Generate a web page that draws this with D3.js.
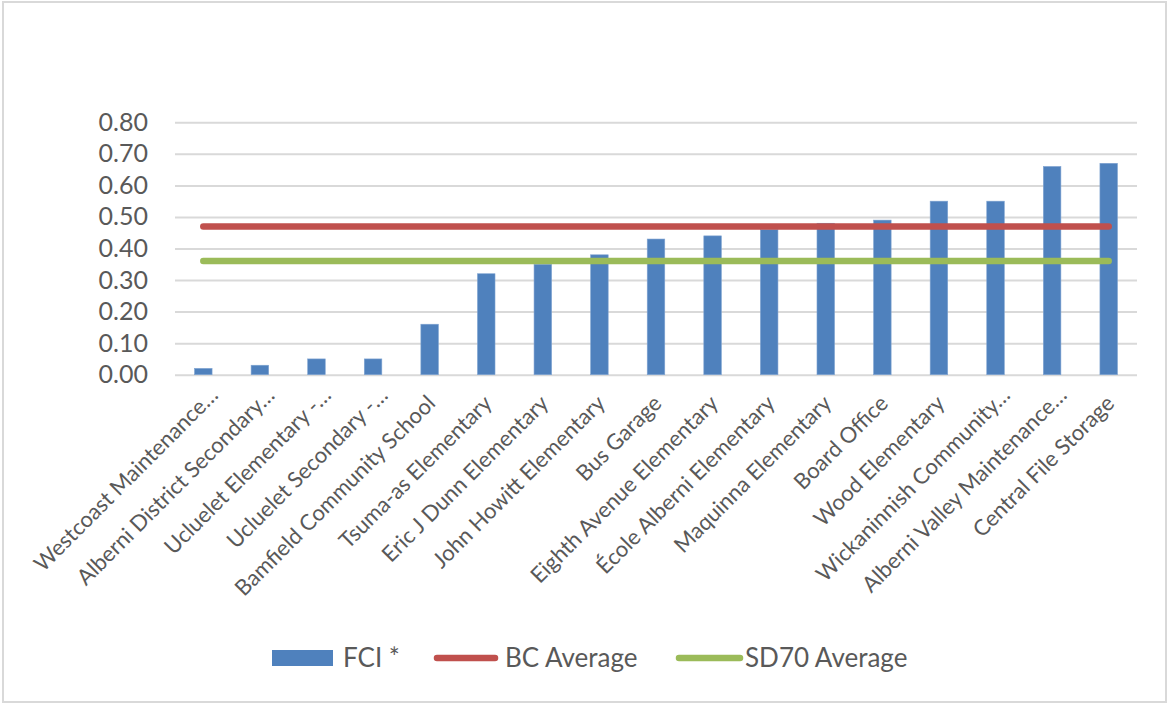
<!DOCTYPE html>
<html>
<head>
<meta charset="utf-8">
<script src="https://cdn.jsdelivr.net/npm/d3@7"></script>
<style>
  html, body { margin: 0; padding: 0; background: #fff; }
  svg { display: block; font-family: Lato, "Open Sans", sans-serif; }
</style>
</head>
<body>
<svg id="chart" width="1169" height="704"></svg>
<script>
// Facility Condition Index by site, with BC and district averages
const sites = [
  "Westcoast Maintenance…",
  "Alberni District Secondary…",
  "Ucluelet Elementary -…",
  "Ucluelet Secondary -…",
  "Bamfield Community School",
  "Tsuma-as Elementary",
  "Eric J Dunn Elementary",
  "John Howitt Elementary",
  "Bus Garage",
  "Eighth Avenue Elementary",
  "École Alberni Elementary",
  "Maquinna Elementary",
  "Board Office",
  "Wood Elementary",
  "Wickaninnish Community…",
  "Alberni Valley Maintenance…",
  "Central File Storage"
];
const fci = [0.02, 0.03, 0.05, 0.05, 0.16, 0.32, 0.35, 0.38, 0.43, 0.44, 0.46, 0.48, 0.49, 0.55, 0.55, 0.66, 0.67];
const bcAverage = 0.47;
const sd70Average = 0.36;
const yTicks = [0, 0.1, 0.2, 0.3, 0.4, 0.5, 0.6, 0.7, 0.8];
const legendItems = ["FCI *", "BC Average", "SD70 Average"];

const colors = { bar: "#4f81bd", bc: "#c0504d", sd70: "#9bbb59", grid: "#d9d9d9", text: "#595959" };

const svg = d3.select("#chart");

// outer chart frame
svg.append("rect")
  .attr("x", 3).attr("y", 2).attr("width", 1163).attr("height", 700)
  .attr("fill", "#fff").attr("stroke", colors.grid).attr("stroke-width", 2);

const plot = { left: 175, right: 1137, top: 122.3, bottom: 374.7 };

const x = d3.scaleBand()
  .domain(sites)
  .range([plot.left, plot.right])
  .paddingInner(0.69)
  .paddingOuter(0.345);

const y = d3.scaleLinear()
  .domain([0, 0.8])
  .range([plot.bottom, plot.top]);

// horizontal gridlines and value labels
const yAxis = d3.axisLeft(y)
  .tickValues(yTicks)
  .tickFormat(d3.format(".2f"))
  .tickSize(-(plot.right - plot.left))
  .tickPadding(27);

const gy = svg.append("g")
  .attr("transform", `translate(${plot.left},0)`)
  .call(yAxis);
gy.select(".domain").remove();
gy.selectAll(".tick line").attr("stroke", colors.grid).attr("stroke-width", 2);
gy.selectAll(".tick text")
  .attr("fill", colors.text)
  .attr("font-size", 25)
  .attr("font-family", "Lato, sans-serif");

// bars
svg.append("g").selectAll("rect")
  .data(fci)
  .join("rect")
  .attr("x", (d, i) => x(sites[i]))
  .attr("y", d => y(d))
  .attr("width", x.bandwidth())
  .attr("height", d => y(0) - y(d))
  .attr("fill", colors.bar)
  .attr("stroke", "#7fa3d1")
  .attr("stroke-width", 0.6);

// category axis labels, rotated
const xAxis = d3.axisBottom(x).tickSize(0).tickPadding(0);
const gx = svg.append("g")
  .attr("transform", `translate(0,${plot.bottom})`)
  .call(xAxis);
gx.select(".domain").remove();
gx.selectAll(".tick text")
  .attr("fill", colors.text)
  .attr("font-size", 22)
  .attr("font-family", "Lato, sans-serif")
  .attr("text-anchor", "end")
  .attr("dy", null)
  .attr("y", null)
  .attr("transform", d => d.endsWith("…") ? "translate(16,22) rotate(-45)" : "translate(7,30) rotate(-45)");

// average lines across all categories
const first = x(sites[0]) + x.bandwidth() / 2;
const last = x(sites[sites.length - 1]) + x.bandwidth() / 2;
[[bcAverage, colors.bc], [sd70Average, colors.sd70]].forEach(([v, c]) => {
  svg.append("line")
    .attr("x1", first).attr("x2", last)
    .attr("y1", y(v)).attr("y2", y(v))
    .attr("stroke", c)
    .attr("stroke-width", 6.5)
    .attr("stroke-linecap", "round");
});

// legend
const lg = svg.append("g").attr("font-family", "Lato, sans-serif").attr("font-size", 26).attr("fill", colors.text);
lg.append("rect").attr("x", 272).attr("y", 650).attr("width", 61).attr("height", 16).attr("fill", colors.bar);
lg.append("text").attr("x", 343).attr("y", 667).text(legendItems[0]);
lg.append("line").attr("x1", 437).attr("x2", 495).attr("y1", 658).attr("y2", 658)
  .attr("stroke", colors.bc).attr("stroke-width", 6.5).attr("stroke-linecap", "round");
lg.append("text").attr("x", 505).attr("y", 667).text(legendItems[1]);
lg.append("line").attr("x1", 679).attr("x2", 740).attr("y1", 658).attr("y2", 658)
  .attr("stroke", colors.sd70).attr("stroke-width", 6.5).attr("stroke-linecap", "round");
lg.append("text").attr("x", 745).attr("y", 667).text(legendItems[2]);
</script>
</body>
</html>
